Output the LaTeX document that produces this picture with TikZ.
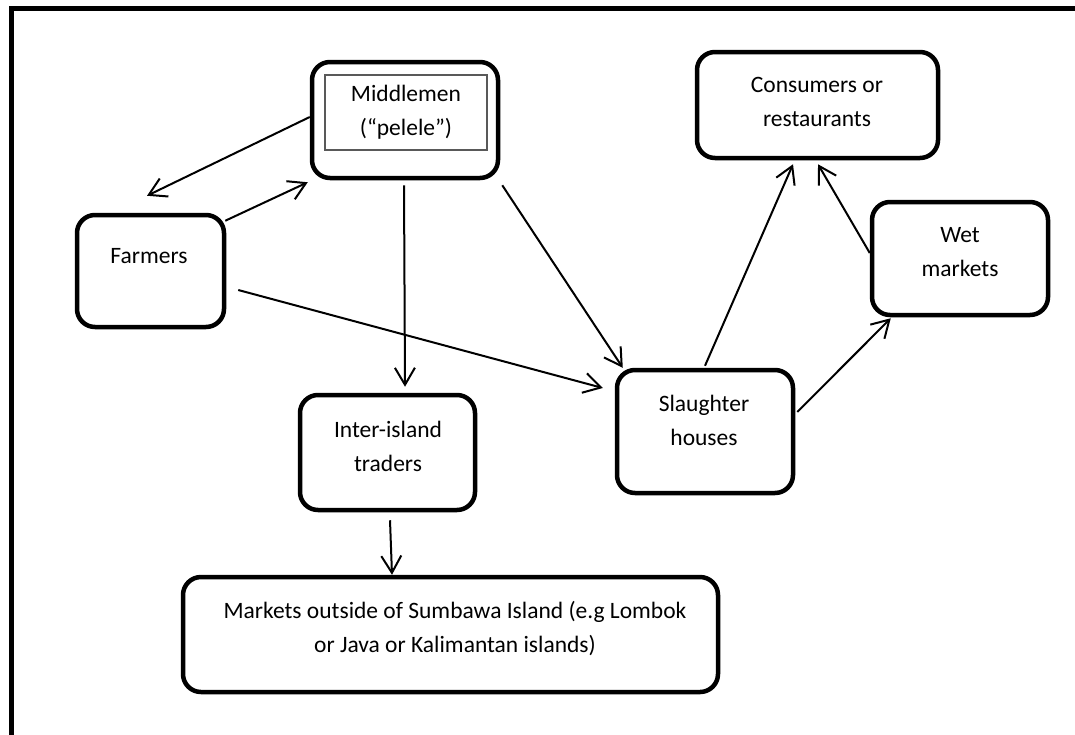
\documentclass[tikz,border=0pt]{standalone}
\usepackage{fontspec}
\setmainfont{Carlito}
\usetikzlibrary{arrows.meta,calc}
\begin{document}
\begin{tikzpicture}[x=1pt,y=-1pt,
  box/.style={draw, line width=4.5pt, rounded corners=18pt, inner sep=0pt},
  lbl/.style={inner sep=0pt, align=center, font=\fontsize{23.5pt}{33.5pt}\selectfont, anchor=base},
  flow/.style={line width=2pt, -{Straight Barb[length=17pt,width=20pt,line width=2pt]}}]
\clip (0,0) rectangle (1075,734);
% page frame (top and left edges)
\draw[line width=5pt] (11.5,740) -- (11.5,8.5) -- (1085,8.5);

% boxes
\node[box, minimum width=147pt, minimum height=112pt] (farmers) at (150.5,271) {};
\node[box, minimum width=186pt, minimum height=116pt] (mid) at (405,120) {};
\node[draw=black!65, line width=1.2pt, inner sep=0pt, minimum width=162pt, minimum height=75pt] (midin) at (406,112.5) {};
\node[box, minimum width=241pt, minimum height=106pt] (cons) at (817.5,105) {};
\node[box, minimum width=176pt, minimum height=113pt] (wet) at (960,258.5) {};
\node[box, minimum width=176pt, minimum height=123pt] (slh) at (705,431.5) {};
\node[box, minimum width=175pt, minimum height=115pt] (trad) at (387.5,452.5) {};
\node[box, minimum width=535pt, minimum height=115pt] (mkt) at (450.5,634.5) {};

% labels (base anchor = baseline of the last line)
\node[lbl] (tfarm) at (149,263) {Farmers};
\node[lbl] (tmid) at (406,135) {Middlemen\\(“pelele”)};
\node[lbl] (tcons) at (817,126) {Consumers or\\restaurants};
\node[lbl] (twet) at (960,276) {Wet\\markets};
\node[lbl] (tslh) at (704,445) {Slaughter\\houses};
\node[lbl] (ttrad) at (388,471) {Inter-island\\traders};
\node[lbl] (tmkt) at (455,652) {Markets outside of Sumbawa Island (e.g Lombok\\or Java or Kalimantan islands)};

% flows
\draw[flow] ($(mid.west)+(0,-3)$) -- ($(farmers.north)+(-3.5,-17)$);
\draw[flow] ($(farmers.north east)+(-1,8)$) -- ($(mid.south west)+(-2,2)$);
\draw[flow] ($(farmers.east)+(12,19)$) -- ($(slh.west)+(-12,-43.5)$);
\draw[flow] ($(mid.south)+(-1,5)$) -- ($(trad.north)+(17.5,-6)$);
\draw[flow] ($(mid.south east)+(2,5)$) -- ($(slh.north west)+(8,0)$);
\draw[flow] ($(slh.north)+(0,-2)$) -- ($(cons.south)+(-24.5,4)$);
\draw[flow] ($(slh.east)+(2,-19.5)$) -- ($(wet.south west)+(21,1)$);
\draw[flow] ($(wet.west)+(0,-5.5)$) -- ($(cons.south)+(0.5,4)$);
\draw[flow] ($(trad.south)+(2.5,8)$) -- ($(mkt.north)+(-58.5,0)$);
\end{tikzpicture}
\end{document}
